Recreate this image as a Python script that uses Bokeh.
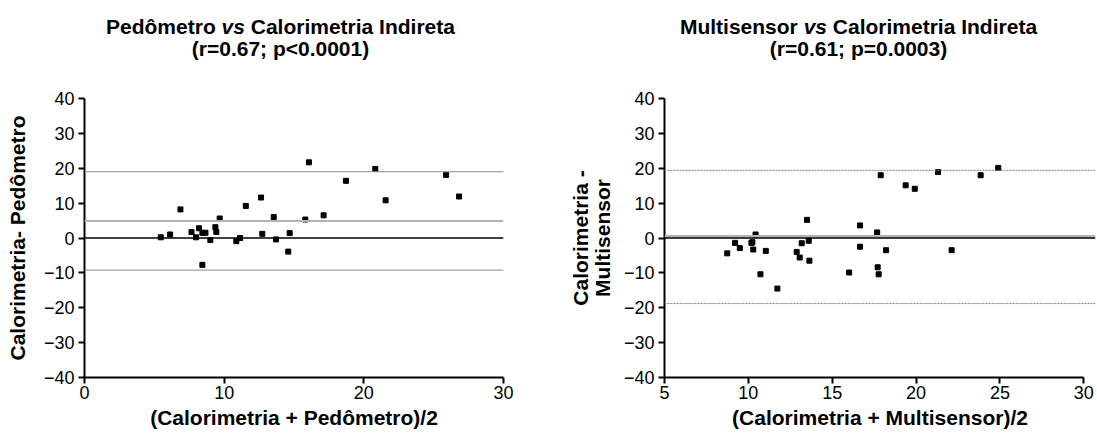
from bokeh.plotting import figure
from bokeh.layouts import row, column
from bokeh.models import Span, Range1d, FixedTicker, ColumnDataSource
from bokeh.core.properties import value
from bokeh.embed import file_html
from bokeh.resources import INLINE

# ---------------- data ----------------
# Left panel: Pedometro vs Calorimetria Indireta
ped_mean = [5.46, 6.13, 6.87, 7.66, 7.99, 8.20, 8.44, 8.66, 8.44, 9.01,
            9.37, 9.44, 9.68, 10.87, 11.14, 11.55, 12.64, 12.73, 13.55, 13.71,
            14.59, 14.69, 15.81, 16.07, 17.12, 18.72, 20.82, 21.56, 25.89, 26.82]
ped_diff = [0.2, 1.0, 8.2, 1.7, 0.2, 2.8, 1.5, 1.5, -7.7, -0.6,
            3.1, 1.7, 5.6, -0.9, 0.0, 9.2, 11.6, 1.2, 6.0, -0.4,
            -3.9, 1.4, 5.3, 21.7, 6.5, 16.4, 19.8, 10.8, 18.1, 11.9]
ped_bias = 4.9
ped_upper = 19.0
ped_lower = -9.2

# Right panel: Multisensor vs Calorimetria Indireta
multi_mean = [8.74, 9.21, 9.49, 10.18, 10.24, 10.29, 10.43, 10.72, 11.04, 11.73,
              12.88, 13.06, 13.18, 13.50, 13.60, 13.64, 16.01, 16.66, 16.66, 17.68,
              17.71, 17.77, 17.89, 18.21, 19.38, 19.92, 21.31, 22.12, 23.85, 24.90]
multi_diff = [-4.4, -1.4, -2.9, -1.4, -1.2, -3.3, 1.0, -10.4, -3.7, -14.5,
              -4.0, -5.6, -1.5, 5.2, -0.8, -6.5, -9.9, 3.6, -2.5, 1.6,
              -8.4, -10.4, 18.0, -3.5, 15.1, 14.1, 18.9, -3.5, 18.0, 20.1]
multi_bias = 0.5
multi_upper = 19.4
multi_lower = -18.8

y_ticks = [-40, -30, -20, -10, 0, 10, 20, 30, 40]
ped_x_ticks = [0, 10, 20, 30]
multi_x_ticks = [5, 10, 15, 20, 25, 30]

titles_left = ["Pedômetro", "vs", "Calorimetria Indireta", "(r=0.67; p<0.0001)"]
titles_right = ["Multisensor", "vs", "Calorimetria Indireta", "(r=0.61; p=0.0003)"]

# ---------------- style ----------------
FONT = "Liberation Sans"
TITLE_PX = 21
TICK_PX = "18px"
LABEL_PX = "21px"
FRAME_H = 279
HEADER_H = 70
TOP = 98 - HEADER_H
BOTTOM = 66
HEIGHT = TOP + FRAME_H + BOTTOM
TOTAL_W = 1097

# Arial-bold advance widths (per 1000 em) for laying out the mixed-style title
W = {'P': 667, 'e': 556, 'd': 611, 'ô': 611, 'm': 889, 't': 333, 'r': 389, 'o': 611,
     ' ': 278, 'v': 556, 's': 556, 'C': 722, 'a': 556, 'l': 278, 'i': 278, 'I': 278,
     'n': 611, 'M': 833, 'u': 611}


def tw(s):
    return sum(W.get(c, 556) for c in s) / 1000.0 * TITLE_PX


def style_axes(p):
    for ax in (p.xaxis[0], p.yaxis[0]):
        ax.axis_line_width = 2
        ax.axis_line_color = "black"
        ax.major_tick_line_width = 2
        ax.major_tick_line_color = "black"
        ax.major_tick_in = 0
        ax.major_tick_out = 6
        ax.minor_tick_line_color = None
        ax.major_label_text_font = FONT
        ax.major_label_text_font_size = TICK_PX
        ax.major_label_text_color = "black"
        ax.major_label_standoff = 4
        ax.axis_label_text_font = FONT
        ax.axis_label_text_font_size = LABEL_PX
        ax.axis_label_text_font_style = "bold"
        ax.axis_label_text_color = "black"


def title_rows(cx, pieces):
    first, vs, last, line2 = pieces
    w_first = tw(first + " ")
    w_vs = tw(vs)
    w_last = tw(" " + last)
    x0 = cx - (w_first + w_vs + w_last) / 2.0
    y1, y2 = 26, 48
    return dict(x=[x0, x0 + w_first, x0 + w_first + w_vs + tw(" "), cx],
                y=[y1, y1, y1, y2],
                text=[first, vs, last, line2],
                style=["bold", "bold italic", "bold", "bold"],
                align=["left", "left", "left", "center"])


# ---------------- header (titles) ----------------
L_LEFT, L_RIGHT, L_W = 84, 55, 558
R_LEFT, R_RIGHT, R_W = 106, 2, 539
cx_left = 280
cx_right = 858

hdr = figure(width=TOTAL_W, height=HEADER_H, x_range=Range1d(0, TOTAL_W),
             y_range=Range1d(HEADER_H, 0), output_backend="svg", toolbar_location=None,
             x_axis_type=None, y_axis_type=None, min_border=0)
hdr.grid.visible = False
hdr.outline_line_color = None
for cx, pieces in [(cx_left, titles_left), (cx_right, titles_right)]:
    d = title_rows(cx, pieces)
    src = ColumnDataSource(d)
    hdr.text(x="x", y="y", text="text", source=src, text_font=value(FONT),
             text_font_size=value(f"{TITLE_PX}px"), text_font_style="style",
             text_align="align", text_baseline="middle", text_color="black")

# ---------------- left figure ----------------
p1 = figure(width=L_W, height=HEIGHT, x_range=Range1d(0, 30), y_range=Range1d(-40, 40),
            output_backend="svg", toolbar_location=None,
            min_border_left=L_LEFT, min_border_right=L_RIGHT,
            min_border_top=TOP, min_border_bottom=BOTTOM)
p1.grid.visible = False
p1.outline_line_color = None
p1.xaxis.ticker = FixedTicker(ticks=ped_x_ticks)
p1.yaxis.ticker = FixedTicker(ticks=y_ticks)
p1.xaxis.axis_label = "(Calorimetria + Pedômetro)/2"
p1.yaxis.axis_label = "Calorimetria- Pedômetro"
style_axes(p1)
p1.xaxis.major_label_standoff = 2
p1.xaxis.axis_label_standoff = 4
p1.yaxis.axis_label_standoff = 12

for loc, col, w in [(ped_upper, "#8c8c8c", 1), (ped_bias, "#b4b4b4", 2), (ped_lower, "#8c8c8c", 1)]:
    p1.add_layout(Span(location=loc, dimension="width", line_color=col, line_width=w))
p1.add_layout(Span(location=0, dimension="width", line_color="black", line_width=1.5))
p1.scatter(ped_mean, ped_diff, marker="square", size=5, color="black")

# ---------------- right figure ----------------
frame_w2 = R_W - R_LEFT - R_RIGHT
x_end2 = 5 + frame_w2 / (419.3 / 25.0)
p2 = figure(width=R_W, height=HEIGHT, x_range=Range1d(5, x_end2), y_range=Range1d(-40, 40),
            output_backend="svg", toolbar_location=None,
            min_border_left=R_LEFT, min_border_right=R_RIGHT,
            min_border_top=TOP, min_border_bottom=BOTTOM)
p2.grid.visible = False
p2.outline_line_color = None
p2.xaxis.ticker = FixedTicker(ticks=multi_x_ticks)
p2.yaxis.ticker = FixedTicker(ticks=y_ticks)
p2.xaxis.bounds = (5, 30)
p2.xaxis.axis_label = "(Calorimetria + Multisensor)/2"
p2.yaxis.axis_label = "Calorimetria -\nMultisensor"
style_axes(p2)
p2.xaxis.major_label_standoff = 2
p2.xaxis.axis_label_standoff = 4
p2.yaxis.axis_label_standoff = 7
p2.yaxis.axis_label_text_line_height = 0.95

for loc, col, w, dash in [(multi_upper, "#808080", 1, "2 1"), (multi_bias, "#b4b4b4", 2.5, "solid"),
                          (multi_lower, "#808080", 1, "2 1")]:
    p2.add_layout(Span(location=loc, dimension="width", line_color=col, line_width=w, line_dash=dash))
p2.add_layout(Span(location=0, dimension="width", line_color="black", line_width=1.5))
p2.scatter(multi_mean, multi_diff, marker="square", size=5, color="black")

layout = column(hdr, row(p1, p2))
open("out.html", "w").write(file_html(layout, INLINE))
